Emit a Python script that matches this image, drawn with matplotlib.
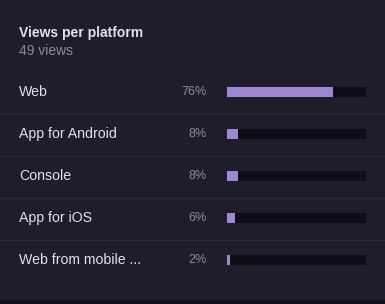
import matplotlib.pyplot as plt

platforms = ['Web', 'App for Android', 'Console', 'App for iOS', 'Web from mobile ...']
percents = [76, 8, 8, 6, 2]
title = 'Views per platform'
subtitle = '49 views'

bg = '#1f1c2b'
track = '#0f0d16'
bar_col = '#9e86d2'
txt = '#e2e0e8'
gray = '#8e8b98'
sep = '#2b2838'

plt.rcParams['font.family'] = ['Liberation Sans', 'DejaVu Sans']

fig = plt.figure(figsize=(3.85, 3.04), dpi=100, facecolor=bg)

# text layer in pixel coordinates
ax = fig.add_axes([0, 0, 1, 1])
ax.set_xlim(0, 385)
ax.set_ylim(304, 0)
ax.axis('off')
ax.axhspan(300, 304, color='#121018', lw=0)

ax.text(19, 33, title, color=txt, fontsize=10, fontweight='bold', va='center')
ax.text(19, 51, subtitle, color=gray, fontsize=10, va='center')

row_y = [92 + 42 * i for i in range(len(platforms))]
for i, (name, p) in enumerate(zip(platforms, percents)):
    y = row_y[i]
    ax.text(19, y, name, color=txt, fontsize=10.2, va='center')
    ax.text(207, y, '%d%%' % p, color=gray, fontsize=9, va='center', ha='right')
    if i < len(platforms) - 1:
        ax.axhline(y + 21.5, color=sep, lw=1)

# bars
bx = fig.add_axes([227 / 385, 0, 139 / 385, 1])
bx.set_xlim(0, 100)
bx.set_ylim(304, 0)
bx.axis('off')
bx.barh(row_y, [100] * len(percents), height=10.5, color=track, lw=0)
bx.barh(row_y, percents, height=10.5, color=bar_col, lw=0)

fig.savefig('out.png', dpi=100, facecolor=bg)
